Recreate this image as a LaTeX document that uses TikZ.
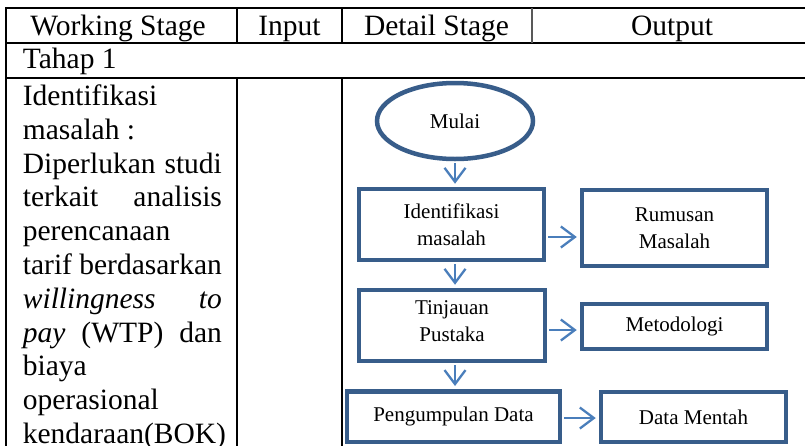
\documentclass[tikz,border=0pt]{standalone}
\usepackage{fontspec}
\setmainfont{Liberation Serif}
\usetikzlibrary{arrows.meta,shapes.geometric}
\definecolor{boxblue}{RGB}{56,93,138}
\definecolor{arrowblue}{RGB}{74,126,187}
\begin{document}
\begin{tikzpicture}[x=1pt,y=-1pt,
  gridline/.style={line width=2.2pt, black},
  fbox/.style={draw=boxblue, line width=4.5pt, fill=white, align=center, inner sep=0pt,
               font=\fontsize{21}{27}\selectfont},
  flow/.style={draw=arrowblue, line width=2.3pt,
               -{Straight Barb[length=14pt,width=21pt,line width=2.3pt]}},
  hdr/.style={anchor=base, inner sep=0pt, font=\fontsize{29.5}{33}\selectfont}]
\useasboundingbox (0,0) rectangle (805,445);
\clip (0,0) rectangle (805,445);
% table grid
\draw[gridline] (6,8.3) -- (820,8.3);
\draw[gridline] (6,43.3) -- (820,43.3);
\draw[gridline] (6,78.3) -- (820,78.3);
\draw[gridline] (6,7.2) -- (6,450);
\draw[gridline] (237,8.3) -- (237,43.3);
\draw[gridline] (342,8.3) -- (342,43.3);
\draw[line width=1.6pt, black!65] (532,8.3) -- (532,43.3);
\draw[gridline] (237,78.3) -- (237,450);
\draw[gridline] (342,78.3) -- (342,450);
% header texts
\node[hdr] (h1) at (118,35) {Working Stage};
\node[hdr] (h2) at (289.5,35) {Input};
\node[hdr] (h3) at (436.5,35) {Detail Stage};
\node[hdr] (h4) at (672,35) {Output};
\node[anchor=base west, inner sep=0pt, font=\fontsize{29.5}{33}\selectfont] (tahap) at (22.7,68) {Tahap 1};
% working stage text
\node[anchor=base west, inner sep=0pt] (ws) at (22.7,105.5) {\parbox[t]{199pt}{\fontsize{29.5}{33.8}\selectfont
Identifikasi\\
masalah :\\
Diperlukan\hfill studi\\
terkait\hfill analisis\\
perencanaan\\
tarif\hfill berdasarkan\\
\textit{willingness}\hfill\textit{to}\\
\textit{pay}\hfill(WTP)\hfill dan\\
biaya\\
operasional\\
kendaraan(BOK)}};
% flowchart
\node[draw=boxblue, line width=4.5pt, ellipse, fill=white, minimum width=156pt, minimum height=76pt,
      inner sep=0pt, font=\fontsize{21}{27}\selectfont] (mulai) at (455,121) {Mulai};
\node[fbox, minimum width=185pt, minimum height=71pt] (ident) at (451.5,224.5) {Identifikasi\\masalah};
\node[fbox, minimum width=185pt, minimum height=76pt] (rumus) at (674.5,228) {Rumusan\\Masalah};
\node[fbox, minimum width=186pt, minimum height=71pt] (tinj) at (452,325.5) {Tinjauan\\Pustaka\rule[-8pt]{0pt}{8pt}};
\node[fbox, minimum width=185pt, minimum height=45pt] (metod) at (674.5,326.5) {Metodologi};
\node[fbox, minimum width=213pt, minimum height=50.5pt] (peng) at (453.5,416.5) {Pengumpulan Data};
\node[fbox, minimum width=185pt, minimum height=50pt] (mentah) at (693.5,417) {Data Mentah};
% connectors
\draw[flow, shorten <=2pt, shorten >=3pt] (mulai.south) -- (mulai.south |- ident.north);
\draw[flow, shorten <=2pt, shorten >=3pt] (ident.south -| mulai.south) -- (tinj.north -| mulai.south);
\draw[flow, shorten <=2pt, shorten >=3pt] (tinj.south -| mulai.south) -- (peng.north -| mulai.south);
\draw[flow, shorten <=2pt, shorten >=3pt] ([yshift=-12.5pt]ident.east) -- ([yshift=-12.5pt]ident.east -| rumus.west);
\draw[flow, shorten <=2pt, shorten >=3pt] ([yshift=-4.5pt]tinj.east) -- ([yshift=-4.5pt]tinj.east -| metod.west);
\draw[flow, shorten <=2pt, shorten >=3pt] ([yshift=-1.5pt]peng.east) -- ([yshift=-1.5pt]peng.east -| mentah.west);
\end{tikzpicture}
\end{document}
